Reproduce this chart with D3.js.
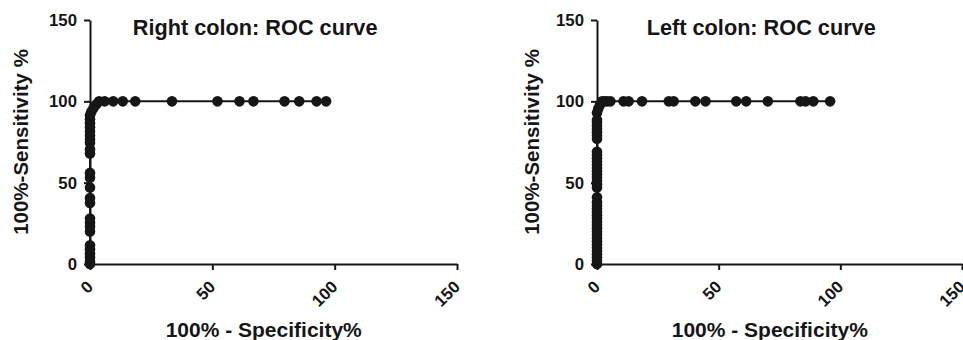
<!DOCTYPE html>
<html>
<head>
<meta charset="utf-8">
<script src="https://cdn.jsdelivr.net/npm/d3@7"></script>
<style>
  body { margin: 0; background: #fff; }
  svg text { font-family: "Liberation Sans", Arial, sans-serif; font-weight: bold; fill: #161616; }
</style>
</head>
<body>
<div id="viz"></div>
<script>

// axis ticks, same on both panels
var ticks = [0, 50, 100, 150];

// Right colon: 100% - specificity (x) and sensitivity (y)
var rightColonX = [0, 0, 0, 0, 0, 0, 0, 0, 0, 0, 0, 0, 0, 0, 0, 0, 0, 0, 0, 0, 0, 0, 0, 0, 0,
  0.5, 1.4, 2.5, 3.7, 6, 9.5, 13.4, 18.5, 33.5, 52.1, 61.1, 66.8, 79.5, 85.5, 92.6, 96.5];
var rightColonY = [0, 1.5, 4, 6.5, 9, 11.5, 20, 23, 25.5, 28, 37.5, 40.5, 47, 53, 56, 68, 70.5, 74.5, 76.5, 79, 81.5, 84, 86.5, 89, 91.5,
  93.5, 95.7, 98, 100, 100, 100, 100, 100, 100, 100, 100, 100, 100, 100, 100, 100];

// Left colon
var leftColonX = [0, 0, 0, 0, 0, 0, 0, 0, 0, 0, 0, 0, 0, 0, 0, 0, 0, 0, 0, 0, 0, 0, 0, 0, 0, 0, 0, 0, 0, 0, 0, 0, 0, 0, 0, 0, 0, 0, 0, 0,
  0, 0.5, 1.2, 2.1, 3, 4.1, 5.5, 10.9, 13, 18.5, 29.5, 31.5, 40.4, 44.6, 57.2, 61.3, 70.2, 83.6, 85.7, 88.9, 95.8];
var leftColonY = [0, 2, 4, 6, 8, 10, 12, 14, 16, 18, 20, 22, 24, 26, 28, 30, 32, 34, 36, 38, 41, 47, 49, 51, 53, 55, 57, 59, 61, 63, 65, 67, 69, 77, 79, 81, 83, 85, 87, 88.5,
  93, 95.5, 97.8, 100, 100, 100, 100, 100, 100, 100, 100, 100, 100, 100, 100, 100, 100, 100, 100, 100, 100];

var panels = [
  {title: "Right colon: ROC curve", xs: rightColonX, ys: rightColonY, x0: 90, x1: 457, yTitleX: 21},
  {title: "Left colon: ROC curve", xs: leftColonX, ys: leftColonY, x0: 597, x1: 962, yTitleX: 532}
];

var width = 963, height = 340;
var svg = d3.select("#viz").append("svg").attr("width", width).attr("height", height);

panels.forEach(function(p){
  var x = d3.scaleLinear().domain([0, 150]).range([p.x0, p.x1]);
  var y = d3.scaleLinear().domain([0, 150]).range([264, 20]);
  var g = svg.append("g");

  var pts = p.xs.map(function(d, i){ return [d, p.ys[i]]; });

  // y axis
  var ya = g.append("g")
      .attr("transform", "translate(" + p.x0 + ",0)")
      .call(d3.axisLeft(y).tickValues(ticks).tickSize(6).tickSizeOuter(0).tickPadding(7));
  ya.selectAll("text").attr("font-size", 16.8).attr("font-family", null);

  // x axis, labels turned 45 degrees
  var xa = g.append("g")
      .attr("transform", "translate(0,264)")
      .call(d3.axisBottom(x).tickValues(ticks).tickSize(6).tickSizeOuter(0));
  xa.selectAll("text")
      .attr("font-size", 16.8).attr("font-family", null)
      .attr("x", 0).attr("y", 0).attr("dy", 0)
      .attr("transform", "translate(3.5,24) rotate(-45)")
      .style("text-anchor", "end");

  g.selectAll(".domain, .tick line").style("stroke", "#161616").style("stroke-width", "2px");

  // roc line
  g.append("path")
      .datum(pts)
      .attr("d", d3.line().x(function(d){ return x(d[0]); }).y(function(d){ return y(d[1]); }))
      .style("fill", "none")
      .style("stroke", "#161616")
      .style("stroke-width", "2px");

  g.selectAll("circle").data(pts).enter().append("circle")
      .attr("cx", function(d){ return x(d[0]); })
      .attr("cy", function(d){ return y(d[1]); })
      .attr("r", 5.3)
      .style("fill", "#161616");

  // titles
  g.append("text")
      .attr("x", x(67.5))
      .attr("y", 35)
      .attr("font-size", 21.7)
      .style("text-anchor", "middle")
      .text(p.title);

  g.append("text")
      .attr("x", x(71))
      .attr("y", 336.5)
      .attr("font-size", 21)
      .style("text-anchor", "middle")
      .text("100% - Specificity%");

  g.append("text")
      .attr("transform", "translate(" + p.yTitleX + "," + y(75) + ") rotate(-90)")
      .attr("dy", "0.36em")
      .attr("font-size", 20.5)
      .style("text-anchor", "middle")
      .text("100%-Sensitivity %");
});

</script>
</body>
</html>
